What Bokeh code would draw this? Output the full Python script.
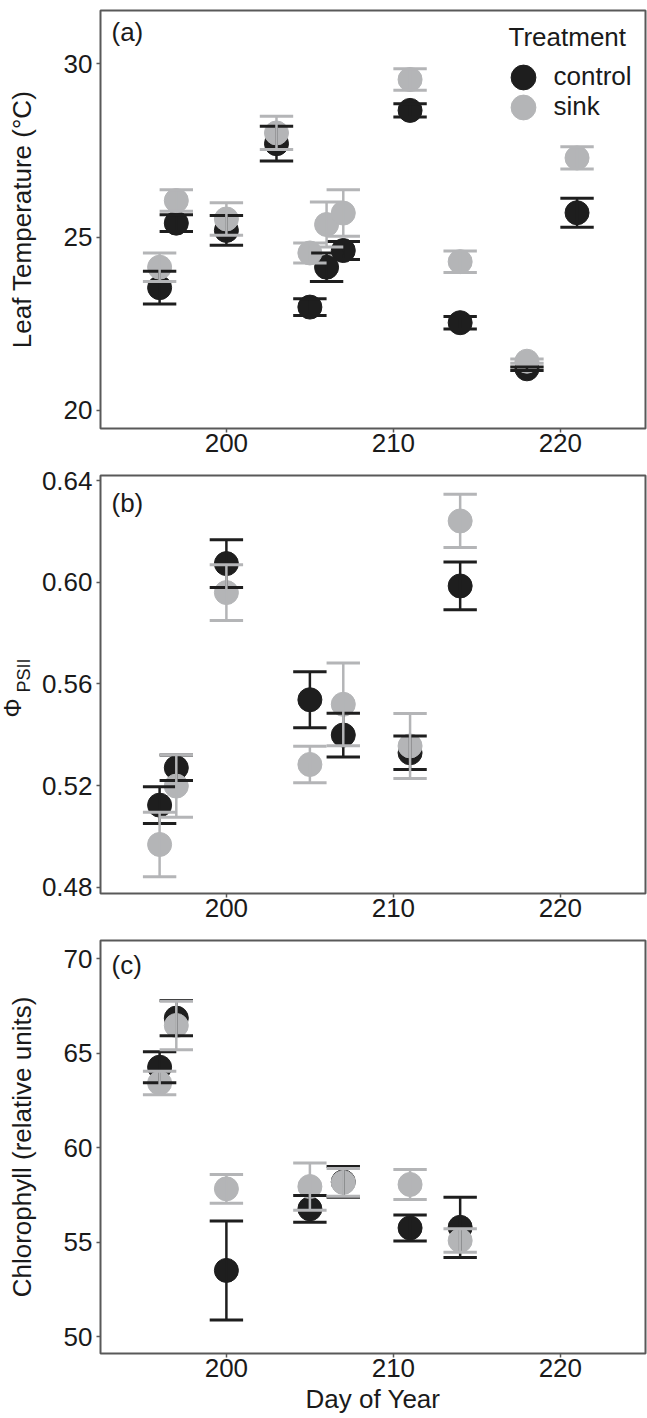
import numpy as np
from bokeh.plotting import figure
from bokeh.models import (ColumnDataSource, Range1d, FixedTicker, Label, Legend,
                          LegendItem, PrintfTickFormatter, Title)
from bokeh.layouts import column
from bokeh.embed import file_html
from bokeh.resources import INLINE

# ---------------- data ----------------
# (a) Leaf temperature (deg C)
days_a = [196, 197, 200, 203, 205, 206, 207, 211, 214, 218, 221]
ctrl_a = [23.54, 25.40, 25.19, 27.69, 22.98, 24.13, 24.61, 28.65, 22.53, 21.20, 25.70]
ctrl_a_se = [0.47, 0.24, 0.43, 0.50, 0.24, 0.41, 0.26, 0.19, 0.18, 0.05, 0.42]
sink_a = [24.13, 26.05, 25.52, 28.00, 24.54, 25.36, 25.69, 29.54, 24.29, 21.42, 27.28]
sink_a_se = [0.41, 0.31, 0.47, 0.48, 0.29, 0.65, 0.67, 0.31, 0.31, 0.06, 0.32]

# (b) PhiPSII
days_b = [196, 197, 200, 205, 207, 211, 214]
ctrl_b = [0.5123, 0.5270, 0.6074, 0.5538, 0.5399, 0.5329, 0.5986]
ctrl_b_se = [0.0072, 0.0050, 0.0094, 0.0110, 0.0086, 0.0066, 0.0094]
sink_b = [0.4968, 0.5198, 0.5960, 0.5283, 0.5520, 0.5356, 0.6242]
sink_b_se = [0.0127, 0.0123, 0.0110, 0.0072, 0.0163, 0.0128, 0.0105]

# (c) Chlorophyll (relative units)
days_c = [196, 197, 200, 205, 207, 211, 214]
ctrl_c = [64.26, 66.86, 53.50, 56.76, 58.19, 55.75, 55.78]
ctrl_c_se = [0.82, 0.93, 2.62, 0.71, 0.81, 0.69, 1.60]
sink_c = [63.42, 66.47, 57.82, 57.94, 58.16, 58.05, 55.08]
sink_c_se = [0.62, 1.28, 0.76, 1.25, 0.73, 0.80, 0.62]

treatments = ["control", "sink"]
x_ticks = [200, 210, 220]
y_ticks_a = [20, 25, 30]
y_ticks_b = [0.48, 0.52, 0.56, 0.60, 0.64]
y_ticks_c = [50, 55, 60, 65, 70]

# ---------------- style ----------------
FONT = "Liberation Sans"
FS = "26px"
TXT = "#1a1a1a"
FRAME = "#595959"
BLACK = "#1e1e1e"
GREY = "#b4b5b7"
CAP_HALF = 1.0  # errorbar cap half-width in days
X_RANGE = (192.46, 225.1)


def src(days, mean, se):
    d = np.array(days, dtype=float)
    m = np.array(mean, dtype=float)
    s = np.array(se, dtype=float)
    return ColumnDataSource(dict(x=d, y=m, lo=m - s, hi=m + s,
                                 xl=d - CAP_HALF, xr=d + CAP_HALF))


def errorbars(p, s, color):
    p.segment(x0="x", y0="lo", x1="x", y1="hi", source=s, line_color=color, line_width=2.5)
    p.segment(x0="xl", y0="hi", x1="xr", y1="hi", source=s, line_color=color, line_width=3)
    p.segment(x0="xl", y0="lo", x1="xr", y1="lo", source=s, line_color=color, line_width=3)


def style_axis(ax):
    ax.axis_line_color = None
    ax.major_tick_out = 4
    ax.major_tick_in = 0
    ax.minor_tick_out = 0
    ax.minor_tick_in = 0
    ax.major_tick_line_color = FRAME
    ax.major_tick_line_width = 1.5
    ax.major_label_text_font = FONT
    ax.major_label_text_font_size = FS
    ax.major_label_text_color = TXT
    ax.axis_label_text_font = FONT
    ax.axis_label_text_font_size = FS
    ax.axis_label_text_font_style = "normal"
    ax.axis_label_text_color = TXT


def panel(days, ctrl, ctrl_se, sink, sink_se, yr, yticks, fmt, top, fh, bottom,
          ylabel, tag, tag_y, xlabel=None):
    p = figure(frame_width=545, frame_height=fh, min_border_left=100, min_border_right=2,
               min_border_top=top, min_border_bottom=bottom,
               x_range=Range1d(*X_RANGE), y_range=Range1d(*yr),
               output_backend="svg", toolbar_location=None)
    p.background_fill_color = "white"
    p.border_fill_color = "white"
    p.outline_line_color = FRAME
    p.outline_line_width = 2
    p.grid.visible = False
    style_axis(p.xaxis[0])
    style_axis(p.yaxis[0])
    p.xaxis.ticker = FixedTicker(ticks=x_ticks)
    p.xaxis.major_label_standoff = 1
    p.yaxis.ticker = FixedTicker(ticks=yticks)
    p.yaxis.major_label_standoff = 4
    if fmt:
        p.yaxis.formatter = PrintfTickFormatter(format=fmt)
    if ylabel:
        p.yaxis.axis_label = ylabel
        p.yaxis.axis_label_standoff = 24
    if xlabel:
        p.xaxis.axis_label = xlabel
        p.xaxis.axis_label_standoff = 4

    sc = src(days, ctrl, ctrl_se)
    ss = src(days, sink, sink_se)
    rc = p.scatter("x", "y", source=sc, size=24, fill_color=BLACK, line_color=BLACK)
    rs = p.scatter("x", "y", source=ss, size=24, fill_color=GREY, line_color=GREY)
    errorbars(p, sc, BLACK)
    errorbars(p, ss, GREY)

    p.add_layout(Label(x=11, y=tag_y, x_units="screen", y_units="screen", text=tag,
                       text_font=FONT, text_font_size=FS, text_color=TXT,
                       text_baseline="middle", text_align="left"))
    return p, rc, rs


pa, rca, rsa = panel(days_a, ctrl_a, ctrl_a_se, sink_a, sink_a_se, (19.48, 31.53), y_ticks_a,
                     None, 10, 418, 37, "Leaf Temperature (°C)", "(a)", 396.5)
pb, _, _ = panel(days_b, ctrl_b, ctrl_b_se, sink_b, sink_b_se, (0.4775, 0.6421), y_ticks_b,
                 "%.2f", 10, 418, 37, None, "(b)", 390.5)
pc, _, _ = panel(days_c, ctrl_c, ctrl_c_se, sink_c, sink_c_se, (49.1, 70.97), y_ticks_c,
                 None, 10, 413, 65, "Chlorophyll (relative units)", "(c)", 389, xlabel="Day of Year")

# legend in panel (a): one single-item legend per treatment, stacked
for item_label, rend, vy in ((treatments[0], rca, 320.5), (treatments[1], rsa, 290.5)):
    lg = Legend(items=[LegendItem(label=item_label, renderers=[rend])],
                location=(391.5, vy), orientation="vertical",
                glyph_width=62, glyph_height=62, spacing=0, padding=0, margin=0,
                label_standoff=-3, label_text_font=FONT, label_text_font_size=FS,
                label_text_color=TXT, label_text_baseline="middle",
                border_line_color=None, background_fill_alpha=0)
    pa.add_layout(lg)
pa.add_layout(Label(x=408, y=391.5, x_units="screen", y_units="screen", text="Treatment",
                    text_font=FONT, text_font_size=FS, text_color=TXT,
                    text_baseline="middle", text_align="left"))

# Phi_PSII axis title for panel (b): two side titles, the subscript set lower-right
t_psii = Title(text="PSII", align="left", vertical_align="top", offset=201, standoff=5,
               text_font=FONT, text_font_size="18px", text_font_style="normal",
               text_color=TXT)
pb.add_layout(t_psii, "left")
t_phi = Title(text="Φ", align="left", vertical_align="bottom", offset=176, standoff=-28,
              text_font=FONT, text_font_size="24px", text_font_style="normal",
              text_color=TXT)
pb.add_layout(t_phi, "left")

for fig in (pa, pb, pc):
    fig.frame_align = False

layout = column(pa, pb, pc, spacing=0)
open("out.html", "w").write(file_html(layout, INLINE))
